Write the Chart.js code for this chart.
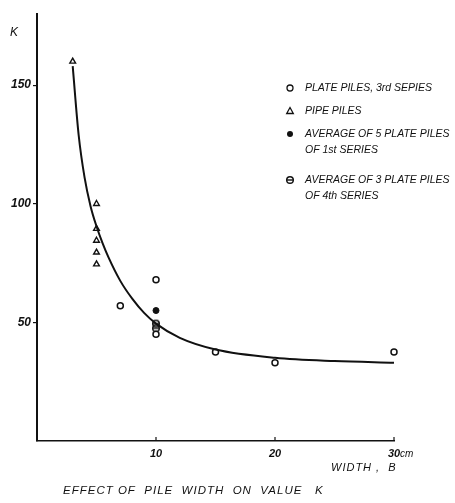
<!DOCTYPE html>
<html>
<head>
<meta charset="utf-8">
<script src="https://cdn.jsdelivr.net/npm/chart.js@4.4.0/dist/chart.umd.min.js"></script>
<style>
  html, body { margin: 0; padding: 0; background: #fff; }
  #wrap { width: 455px; height: 503px; }
</style>
</head>
<body>
<div id="wrap"><canvas id="chart" width="455" height="503"></canvas></div>
<script>
// Values (pile width B in cm, value K)
const plateX = [7, 10, 10, 15, 20, 30];
const plateK = [57, 68, 45, 37.5, 33, 37.5];

const pipeX = [3, 5, 5, 5, 5, 5];
const pipeK = [160, 100, 89.5, 84.5, 79.5, 74.5];

const avg1X = [10];
const avg1K = [55];

const avg4X = [10, 10];
const avg4K = [49.5, 47.5];

// fitted curve
const curveX = [3, 3.5, 4, 4.5, 5, 5.5, 6, 7, 8, 9, 10, 12, 15, 20, 25, 30];
const curveK = [158, 129, 111, 99, 90.5, 83.5, 77.5, 67.5, 60, 54, 49.5, 43.5, 38.6, 35.1, 33.7, 33];

const xTicks = [10, 20, 30];
const yTicks = [50, 100, 150];

const legendLabels = [
  ['PLATE PILES, 3rd SEPIES'],
  ['PIPE PILES'],
  ['AVERAGE OF 5 PLATE PILES', 'OF 1st SERIES'],
  ['AVERAGE OF 3 PLATE PILES', 'OF 4th SERIES']
];

const pts = (xs, ys) => xs.map((x, i) => ({ x: x, y: ys[i] }));

const ink = '#111';
const handFont = '"Liberation Sans", Arial, sans-serif';

// circle with a bar through it, for the 4th series averages
function crossedCircle() {
  const c = document.createElement('canvas');
  c.width = 10; c.height = 10;
  const g = c.getContext('2d');
  g.strokeStyle = ink;
  g.lineWidth = 1.4;
  g.beginPath();
  g.arc(5, 5, 3.3, 0, Math.PI * 2);
  g.stroke();
  g.beginPath();
  g.moveTo(1.5, 5); g.lineTo(8.5, 5);
  g.stroke();
  return c;
}
const crossedMark = crossedCircle();

// legend, axis captions and upward x tick marks
const annotations = {
  id: 'annotations',
  afterDraw(chart) {
    const ctx = chart.ctx;
    const xs = chart.scales.x;
    const area = chart.chartArea;
    ctx.save();
    ctx.strokeStyle = ink;
    ctx.fillStyle = ink;

    // small ticks above the x axis
    ctx.lineWidth = 1.2;
    xTicks.forEach(v => {
      const px = xs.getPixelForValue(v);
      ctx.beginPath();
      ctx.moveTo(px, area.bottom);
      ctx.lineTo(px, area.bottom - 4);
      ctx.stroke();
    });

    // unit after the last tick
    ctx.font = 'italic 10px ' + handFont;
    ctx.textAlign = 'left';
    ctx.textBaseline = 'middle';
    ctx.fillText('cm', xs.getPixelForValue(30) + 6, 454);

    // axis names
    ctx.font = 'italic 12px ' + handFont;
    ctx.fillText('K', 10, 33);
    ctx.font = 'italic 11px ' + handFont;
    ctx.letterSpacing = '1px';
    ctx.fillText('WIDTH ,  B', 331, 468);

    // caption
    ctx.font = 'italic 11.5px ' + handFont;
    ctx.letterSpacing = '1px';
    ctx.fillText('EFFECT OF  PILE  WIDTH  ON  VALUE   K', 63, 491);
    ctx.letterSpacing = '0px';

    // legend
    const rows = [88, 111, 134, 180];
    const marks = [
      g => { g.beginPath(); g.arc(0, 0, 3, 0, Math.PI * 2); g.fillStyle = '#fff'; g.fill(); g.stroke(); },
      g => { g.beginPath(); g.moveTo(0, -3.5); g.lineTo(3.3, 2.5); g.lineTo(-3.3, 2.5); g.closePath(); g.fillStyle = '#fff'; g.fill(); g.stroke(); },
      g => { g.beginPath(); g.arc(0, 0, 3, 0, Math.PI * 2); g.fill(); },
      g => { g.drawImage(crossedMark, -5, -5); }
    ];
    ctx.font = 'italic 10.5px ' + handFont;
    ctx.lineWidth = 1.3;
    legendLabels.forEach((lines, i) => {
      ctx.save();
      ctx.translate(290, rows[i]);
      ctx.fillStyle = ink;
      marks[i](ctx);
      ctx.restore();
      ctx.fillStyle = ink;
      lines.forEach((t, j) => ctx.fillText(t, 305, rows[i] + j * 16));
    });

    ctx.restore();
  }
};

new Chart(document.getElementById('chart'), {
  type: 'scatter',
  data: {
    datasets: [
      {
        label: 'curve',
        data: pts(curveX, curveK),
        showLine: true,
        borderColor: ink,
        borderWidth: 2,
        pointRadius: 0,
        cubicInterpolationMode: 'monotone',
        fill: false,
        clip: false
      },
      {
        label: 'PLATE PILES, 3rd SEPIES',
        data: pts(plateX, plateK),
        pointStyle: 'circle',
        pointRadius: 3,
        borderWidth: 1.5,
        borderColor: ink,
        backgroundColor: '#fff',
        clip: false
      },
      {
        label: 'PIPE PILES',
        data: pts(pipeX, pipeK),
        pointStyle: 'triangle',
        pointRadius: 3.3,
        borderWidth: 1.4,
        borderColor: ink,
        backgroundColor: '#fff',
        clip: false
      },
      {
        label: 'AVERAGE OF 5 PLATE PILES OF 1st SERIES',
        data: pts(avg1X, avg1K),
        pointStyle: 'circle',
        pointRadius: 3,
        borderWidth: 1,
        borderColor: ink,
        backgroundColor: ink,
        clip: false
      },
      {
        label: 'AVERAGE OF 3 PLATE PILES OF 4th SERIES',
        data: pts(avg4X, avg4K),
        pointStyle: crossedMark,
        pointRadius: 3,
        clip: false
      }
    ]
  },
  options: {
    responsive: false,
    animation: false,
    events: [],
    layout: { padding: { top: 14, right: 61, bottom: 0, left: 0 } },
    plugins: {
      legend: { display: false },
      tooltip: { enabled: false }
    },
    scales: {
      x: {
        type: 'linear',
        min: 0,
        max: 30,
        afterBuildTicks: s => { s.ticks = xTicks.map(v => ({ value: v })); },
        afterFit: s => { s.height = 62; },
        grid: { display: false, tickLength: 0 },
        border: { display: true, color: ink, width: 1.6 },
        ticks: {
          color: ink,
          padding: 6,
          maxRotation: 0,
          font: { family: handFont, size: 11, style: 'italic', weight: 'bold' }
        }
      },
      y: {
        type: 'linear',
        min: 0,
        max: 180,
        afterBuildTicks: s => { s.ticks = yTicks.map(v => ({ value: v })); },
        afterFit: s => { s.width = 37; },
        grid: { drawOnChartArea: false, drawTicks: true, tickLength: 4, color: ink, lineWidth: 1.2 },
        border: { display: true, color: ink, width: 2 },
        ticks: {
          color: ink,
          padding: 2,
          font: { family: handFont, size: 12, style: 'italic', weight: 'bold' }
        }
      }
    }
  },
  plugins: [annotations]
});
</script>
</body>
</html>
